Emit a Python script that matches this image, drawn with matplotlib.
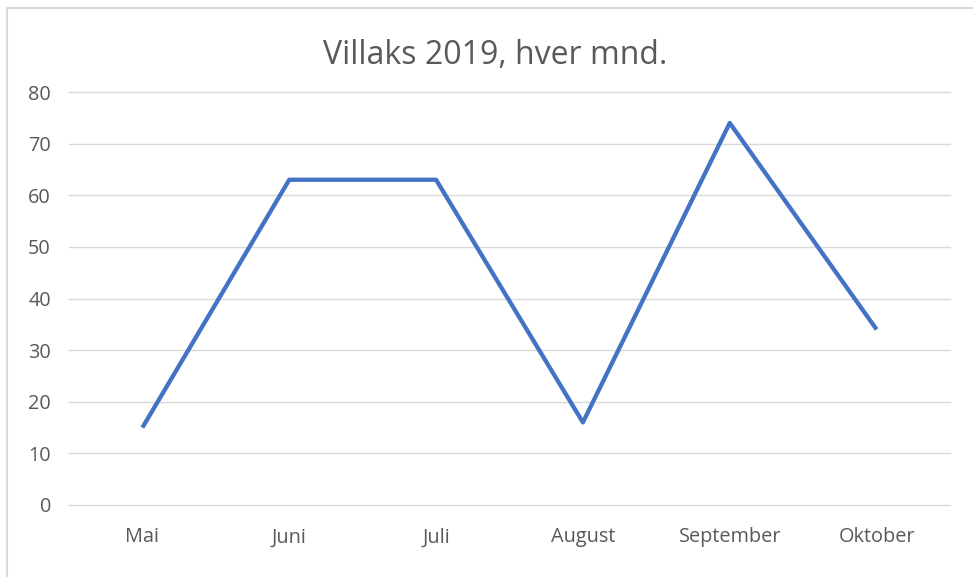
import matplotlib
matplotlib.use("Agg")
import matplotlib.pyplot as plt
from matplotlib.lines import Line2D

categories = ["Mai", "Juni", "Juli", "August", "September", "Oktober"]
values = [15, 63, 63, 16, 74, 34]
yticks = [0, 10, 20, 30, 40, 50, 60, 70, 80]
title = "Villaks 2019, hver mnd."

W, H = 973, 577
fig = plt.figure(figsize=(W / 100, H / 100), dpi=100)
plt.rcParams['font.family'] = ['Open Sans', 'DejaVu Sans']

ax = fig.add_axes([69 / W, 1 - 505 / H, (950 - 69) / W, (505 - 92) / H])
x = list(range(len(categories)))
ax.plot(x, values, color="#4472C4", linewidth=3.1, solid_joinstyle="round",
        solid_capstyle="butt", zorder=3)
ax.set_xlim(-0.5, len(categories) - 0.5)
ax.set_ylim(0, 80)
ax.set_yticks(yticks)
ax.set_xticks(x)
ax.set_xticklabels(categories)
for yv in yticks:
    ax.axhline(yv, color="#D9D9D9", linewidth=1, zorder=1, clip_on=False)
for s in ax.spines.values():
    s.set_visible(False)
ax.tick_params(axis="both", length=0, colors="#595959", labelsize=14.3)
ax.tick_params(axis="y", pad=13)
ax.tick_params(axis="x", pad=16)

fig.text(495 / W, 1 - 55 / H, title, ha="center", va="center",
         fontsize=23, color="#595959")

fig.add_artist(Line2D([7 / W, 1], [1 - 8 / H, 1 - 8 / H], transform=fig.transFigure,
                      color="#D9D9D9", linewidth=1.5))
fig.add_artist(Line2D([7 / W, 7 / W], [0, 1 - 8 / H], transform=fig.transFigure,
                      color="#D9D9D9", linewidth=1.5))

fig.savefig("out.png", dpi=100)
